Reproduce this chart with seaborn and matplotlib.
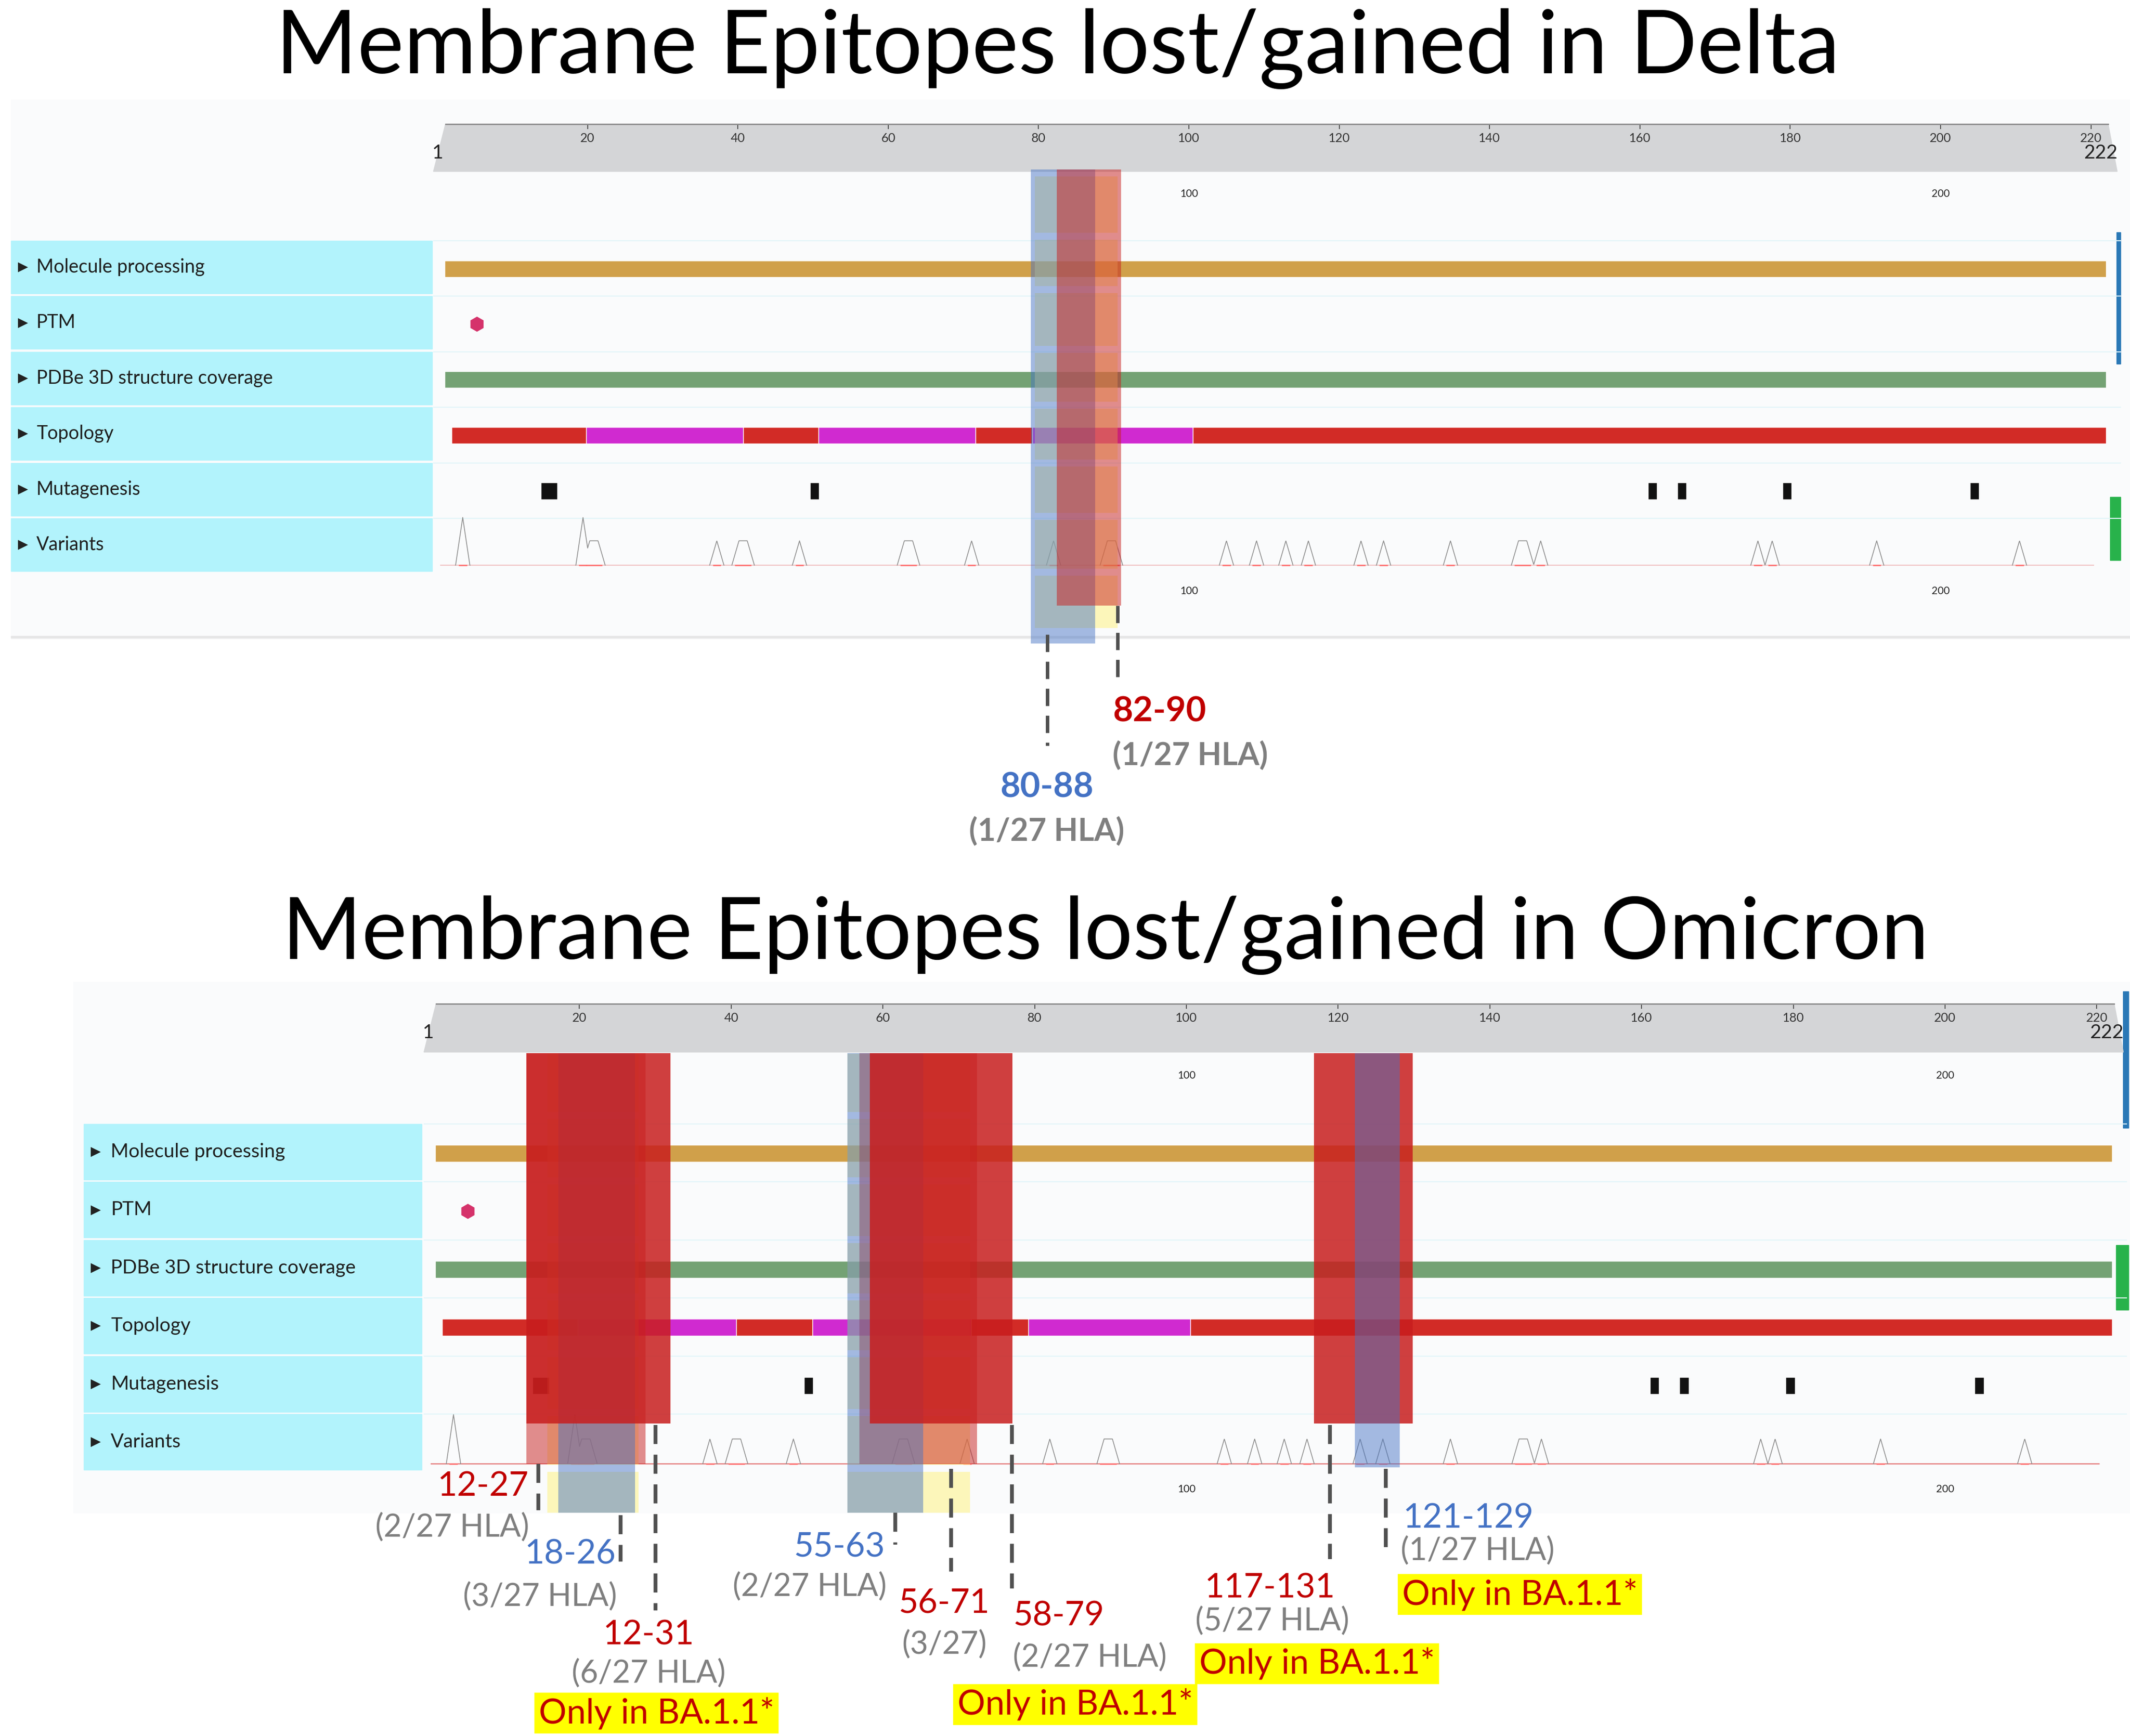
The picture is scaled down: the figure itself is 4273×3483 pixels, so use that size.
import numpy as np
import matplotlib
matplotlib.use("Agg")
import matplotlib.pyplot as plt
from matplotlib.patches import Polygon, Rectangle
import seaborn as sns

sns.set_theme(style="white")
plt.rcParams["font.family"] = ["Lato", "DejaVu Sans"]

W, H = 4273, 3483

# ---- values (residue positions along the M protein) ----
TICKS = [20, 40, 60, 80, 100, 120, 140, 160, 180, 200, 220]
ROW_LABELS = ["Molecule processing", "PTM", "PDBe 3D structure coverage",
              "Topology", "Mutagenesis", "Variants"]
CHAIN = (1, 222)
PDBE = (1, 222)
PTM_SITES = [5.3]
TOPO_EDGES = [1.9, 19.8, 40.7, 50.7, 71.6, 79.2, 100.5, 222]
TOPO_KIND = ["outside", "membrane", "inside", "membrane", "outside", "membrane", "inside"]
MUTAGEN_POS = [14.9, 50.2, 161.7, 165.6, 179.6, 204.5]
MUTAGEN_WIDTH = [2.2, 1.2, 1.2, 1.2, 1.2, 1.2]
VAR_POS = [3.4, 19.4, 20.85, 37.2, 40.7, 48.2, 62.7, 71.1, 82.0, 89.7, 105.0, 109.0,
           112.9, 115.9, 122.9, 125.9, 134.8, 144.4, 146.8, 175.7, 177.6, 191.5, 210.5]
VAR_TALL = [1, 1, 0, 0, 0, 0, 0, 0, 0, 0, 0, 0, 0, 0, 0, 0, 0, 0, 0, 0, 0, 0, 0]
VAR_FLAT = [0, 0, 0.55, 0, 0.55, 0, 0.55, 0, 0, 0.55, 0, 0, 0, 0, 0, 0, 0, 0.55, 0, 0, 0, 0, 0]

# Delta epitopes
DELTA_NAMES = ["80-88", "82-90"]
DELTA_START = [79.0, 82.4]
DELTA_END = [87.5, 91.0]
DELTA_KIND = ["blue", "red"]
DELTA_HLA = ["(1/27 HLA)", "(1/27 HLA)"]
DELTA_HL_START = [79.5]
DELTA_HL_END = [90.5]

# Omicron epitopes
OMI_NAMES = ["12-27", "12-31", "18-26", "55-63", "56-71", "58-79", "117-131", "121-129"]
OMI_START = [13.0, 13.0, 17.2, 55.3, 56.9, 58.3, 116.8, 122.2]
OMI_END = [28.7, 32.0, 27.3, 65.3, 72.4, 77.1, 129.8, 128.1]
OMI_KIND = ["red", "red", "blue", "blue", "red", "red", "red", "blue"]
OMI_HLA = ["(2/27 HLA)", "(6/27 HLA)", "(3/27 HLA)", "(2/27 HLA)", "(3/27)",
           "(2/27 HLA)", "(5/27 HLA)", "(1/27 HLA)"]
OMI_BA11 = [False, True, False, False, False, True, True, True]
OMI_HL_START = [15.8, 55.3]
OMI_HL_END = [27.8, 71.5]

# ---- styling / layout (pixels) ----
TXT = {"red": "#c00000", "blue": "#4472c4", "gray": "#7f7f7f"}
SHADE = {"red": "#c81e1e", "blue": "#4472c4"}
TOPO_COL = {"outside": "#d22b26", "inside": "#d22b26", "membrane": "#d02ad0"}

TOP = dict(x0=877, sc=15.08, band=(249, 344), row0=483, step=111.4, rh=106,
           box=(22, 867), arrow_x=46, text_x=73, label_fs=27,
           bg=(22, 200, W, 1282), nav_y=(389, 1186),
           gaps=[474, 581, 701, 813, 929, 1036, 1148], hl_y=(354, 1260),
           bar_h=33, tall=96, short=49, base_col="#f0c2c2",
           blue_bar=(4246, 466, 8, 264), green_bar=(4233, 997, 21, 127))
BOT = dict(x0=858, sc=15.22, band=(2014, 2111), row0=2255, step=116.4, rh=112,
           box=(168, 846), arrow_x=192, text_x=222, label_fs=28,
           bg=(147, 1970, W, 3035), nav_y=(2158, 2988),
           gaps=[2238, 2369, 2487, 2602, 2716, 2834, 2946], hl_y=(2114, 3035),
           bar_h=34, tall=99, short=50, base_col="#e27070",
           blue_bar=(4259, 1989, 11, 274), green_bar=(4245, 2498, 25, 130))

fig = plt.figure(figsize=(W / 100, H / 100), dpi=100)
fig.patch.set_facecolor("white")
base = fig.add_axes([0, 0, 1, 1], zorder=0)
base.set_xlim(0, W)
base.set_ylim(H, 0)
base.axis("off")


def track_axes(p, z):
    ax = fig.add_axes([0, 0, 1, 1], zorder=z)
    ax.set_xlim(-p["x0"] / p["sc"], (W - p["x0"]) / p["sc"])
    ax.set_ylim(H, 0)
    ax.axis("off")
    ax.patch.set_alpha(0)
    return ax


def ruler(p, z):
    y = p["band"][0]
    ax = fig.add_axes([0, 1 - y / H, 1, 0.004], zorder=z)
    ax.set_xlim(-p["x0"] / p["sc"], (W - p["x0"]) / p["sc"])
    ax.patch.set_alpha(0)
    for s in ("top", "left", "right"):
        ax.spines[s].set_visible(False)
    ax.spines["bottom"].set_bounds(1.1, 222.3)
    ax.spines["bottom"].set_color("#8c8c8c")
    ax.spines["bottom"].set_linewidth(2)
    ax.set_xticks(TICKS)
    ax.set_xticklabels([str(t) for t in TICKS])
    ax.set_yticks([])
    ax.tick_params(axis="x", bottom=True, direction="out", length=7, width=1.5,
                   color="#555555", pad=5, labelsize=18, labelcolor="#333333")


def panel(p, z):
    # background and left labels
    x0, y0, x1, y1 = p["bg"]
    base.add_patch(Rectangle((x0, y0), x1 - x0, y1 - y0, color="#fafbfc", zorder=0))
    for k, lab in enumerate(ROW_LABELS):
        top = p["row0"] + k * p["step"]
        base.add_patch(Rectangle((p["box"][0], top), p["box"][1] - p["box"][0], p["rh"],
                                 color="#b2f3fc", zorder=1))
        cy = top + p["rh"] / 2
        base.text(p["arrow_x"], cy, "\u25b6", family="DejaVu Sans", fontsize=19,
                  ha="center", va="center", color="#222222", zorder=2,
                  transform=base.transData)
        base.text(p["text_x"], cy, lab, fontsize=p["label_fs"], ha="left",
                  va="center", color="#1e1e1e", zorder=2)
    bx, by, bw, bh = p["blue_bar"]
    base.add_patch(Rectangle((bx, by), bw, bh, color="#2a78b6", zorder=1))
    gx, gy, gw, gh = p["green_bar"]
    base.add_patch(Rectangle((gx, gy), gw, gh, color="#28b24b", zorder=1))

    ax = track_axes(p, z)
    ruler(p, z + 1)
    bt, bb = p["band"]
    ax.add_patch(Polygon([(-0.5, bb), (1.1, bt), (222.3, bt), (223.5, bb)],
                         closed=True, color="#d4d5d7", zorder=1))
    ax.text(0.1, bt + 58, "1", fontsize=28, ha="center", va="center", color="#222222", zorder=3)
    ax.text(221.3, bt + 58, "222", fontsize=28, ha="center", va="center",
            color="#222222", zorder=3)
    for ny in p["nav_y"]:
        for t in (100, 200):
            ax.text(t, ny, str(t), fontsize=15, ha="center", va="center", color="#222222", zorder=2)

    rows = [p["row0"] + k * p["step"] for k in range(6)]
    ax.hlines(rows, -0.5, 224, color="#e2f5f9", lw=1.5, zorder=1)
    centers = [r + p["rh"] / 2 + 3 for r in rows]

    ax.barh(centers[0], CHAIN[1] - CHAIN[0], left=CHAIN[0], height=p["bar_h"],
            color="#d0a04a", zorder=2)
    sns.scatterplot(x=PTM_SITES, y=[centers[1]] * len(PTM_SITES), marker="h", s=480,
                    color="#d5336b", edgecolor="none", ax=ax, zorder=2, legend=False)
    ax.barh(centers[2], PDBE[1] - PDBE[0], left=PDBE[0], height=p["bar_h"],
            color="#74a274", zorder=2)
    ax.barh([centers[3]] * len(TOPO_KIND), np.diff(TOPO_EDGES), left=TOPO_EDGES[:-1],
            height=p["bar_h"], color=[TOPO_COL[k] for k in TOPO_KIND], zorder=2)
    ax.bar(MUTAGEN_POS, 34, width=MUTAGEN_WIDTH, bottom=centers[4] - 17,
           color="#111111", zorder=2)

    base_y = rows[5] + p["rh"] - 12
    ax.hlines(base_y, 0.4, 220.4, color=p["base_col"], lw=1.5, zorder=2)
    xg = np.linspace(0, 223, 8000)
    env = np.zeros_like(xg)
    slope = 0.95
    for c, tall, flat in zip(VAR_POS, VAR_TALL, VAR_FLAT):
        h = p["tall"] if tall else p["short"]
        env = np.maximum(env, np.clip((flat + slope - np.abs(xg - c)) / slope, 0, 1) * h)
        ax.hlines(base_y, c - flat - 0.55, c + flat + 0.55, color="#ff7070", lw=2, zorder=2)
    keep = env > 0
    keep = keep | np.roll(keep, 1) | np.roll(keep, -1)
    ax.plot(xg, np.where(keep, base_y - env, np.nan), color="#8f8f8f", lw=1.2, zorder=2)
    return ax


def highlight(ax, p, starts, ends):
    ys = [p["hl_y"][0]] + p["gaps"] + [p["hl_y"][1]]
    for s, e in zip(starts, ends):
        for k in range(len(ys) - 1):
            a = ys[k] + (7 if k > 0 else 0)
            b = ys[k + 1] - (7 if k + 1 < len(ys) - 1 else 0)
            if b > a:
                ax.bar((s + e) / 2, b - a, width=e - s, bottom=a, color="#fff27a",
                       alpha=0.5, lw=0, zorder=3)


def shade(ax, s, e, top, bottom, kind, alpha, z):
    ax.bar((s + e) / 2, bottom - top, width=e - s, bottom=top, color=SHADE[kind],
           alpha=alpha, lw=0, zorder=z)


def leader(ax, x, y0, y1, lw):
    ax.vlines(x, y0, y1, colors="#505050", lw=lw, linestyles=(0, (5, 2.8)), zorder=8)


def fit(txt, width):
    fig.canvas.draw()
    r = fig.canvas.get_renderer()
    txt.set_fontsize(txt.get_fontsize() * width / txt.get_window_extent(r).width)


# ---------------- Delta ----------------
t1 = base.text(2122, 147, "Membrane Epitopes lost/gained in Delta", fontsize=130,
               ha="center", va="baseline", color="black")
fit(t1, 3139)
base.add_patch(Rectangle((22, 1276), W - 22, 4, color="#e6e6e6", zorder=1))

axd = panel(TOP, 2)
highlight(axd, TOP, DELTA_HL_START, DELTA_HL_END)
shade(axd, DELTA_START[0], DELTA_END[0], 340, 1291, DELTA_KIND[0], 0.48, 4)
shade(axd, DELTA_START[1], DELTA_END[1], 340, 1215, DELTA_KIND[1], 0.5, 5)
leader(axd, 81.2, 1273, 1496, 5)
leader(axd, 90.5, 1215, 1371, 5)

base.text(2232, 1447, DELTA_NAMES[1], fontsize=50, weight="bold", color=TXT[DELTA_KIND[1]],
          ha="left", va="baseline", zorder=3)
base.text(2232, 1535, DELTA_HLA[1], fontsize=45, weight="bold", color=TXT["gray"],
          ha="left", va="baseline", zorder=3)
base.text(2100, 1599, DELTA_NAMES[0], fontsize=50, weight="bold", color=TXT[DELTA_KIND[0]],
          ha="center", va="baseline", zorder=3)
base.text(2100, 1687, DELTA_HLA[0], fontsize=45, weight="bold", color=TXT["gray"],
          ha="center", va="baseline", zorder=3)

# ---------------- Omicron ----------------
t2 = base.text(2218, 1924, "Membrane Epitopes lost/gained in Omicron",
               fontsize=130, ha="center", va="baseline", color="black")
fit(t2, 3303)
axo = panel(BOT, 4)
highlight(axo, BOT, OMI_HL_START, OMI_HL_END)

OMI_ALPHA = [0.5, 0.85, 0.48, 0.48, 0.5, 0.85, 0.85, 0.48]
OMI_Z = [4, 6, 5, 5, 4, 6, 6, 7]
OMI_BOTTOM = [2937, 2856, 3035, 3035, 2937, 2856, 2856, 2944]
for s, e, k, a, z, b in zip(OMI_START, OMI_END, OMI_KIND, OMI_ALPHA, OMI_Z, OMI_BOTTOM):
    shade(axo, s, e, 2113, b, k, a, z)

OMI_LEAD = [(14.6, 2937, 3030), (30.0, 2859, 3231), (25.4, 3040, 3133), (61.6, 3035, 3099),
            (69.0, 2947, 3153), (77.0, 2859, 3187), (118.9, 2859, 3128), (126.3, 2947, 3104)]
for x, y0, y1 in OMI_LEAD:
    leader(axo, x, y0, y1, 5.5)

# name label (x, baseline, align), hla label (x, baseline), BA box centre
OMI_NAME_POS = [(1061, 3001, "right"), (1301, 3299, "center"), (1235, 3138, "right"),
                (1775, 3123, "right"), (1894, 3236, "center"), (2032, 3261, "left"),
                (2547, 3206, "center"), (2814, 3065, "left")]
OMI_HLA_POS = [(1062, 3084), (1301, 3377), (1238, 3223), (1779, 3203), (1894, 3319),
               (2032, 3345), (2552, 3272), (2810, 3131)]
OMI_BA_POS = [None, (1317, 3437), None, None, None, (2157, 3420), (2642, 3338), (3049, 3199)]

for name, kind, hla, ba, npos, hpos, bpos in zip(OMI_NAMES, OMI_KIND, OMI_HLA, OMI_BA11,
                                                   OMI_NAME_POS, OMI_HLA_POS, OMI_BA_POS):
    base.text(npos[0], npos[1], name, fontsize=49, color=TXT[kind], ha=npos[2],
              va="baseline", zorder=3)
    base.text(hpos[0], hpos[1], hla, fontsize=45, color=TXT["gray"], ha=npos[2],
              va="baseline", zorder=3)
    if ba:
        base.text(bpos[0], bpos[1], "Only in BA.1.1*", fontsize=50, color=TXT["red"],
                  ha="center", va="center", zorder=3,
                  bbox=dict(boxstyle="square,pad=0.12", fc="#ffff00", ec="none"))

fig.savefig("out.png", dpi=100, facecolor="white")
